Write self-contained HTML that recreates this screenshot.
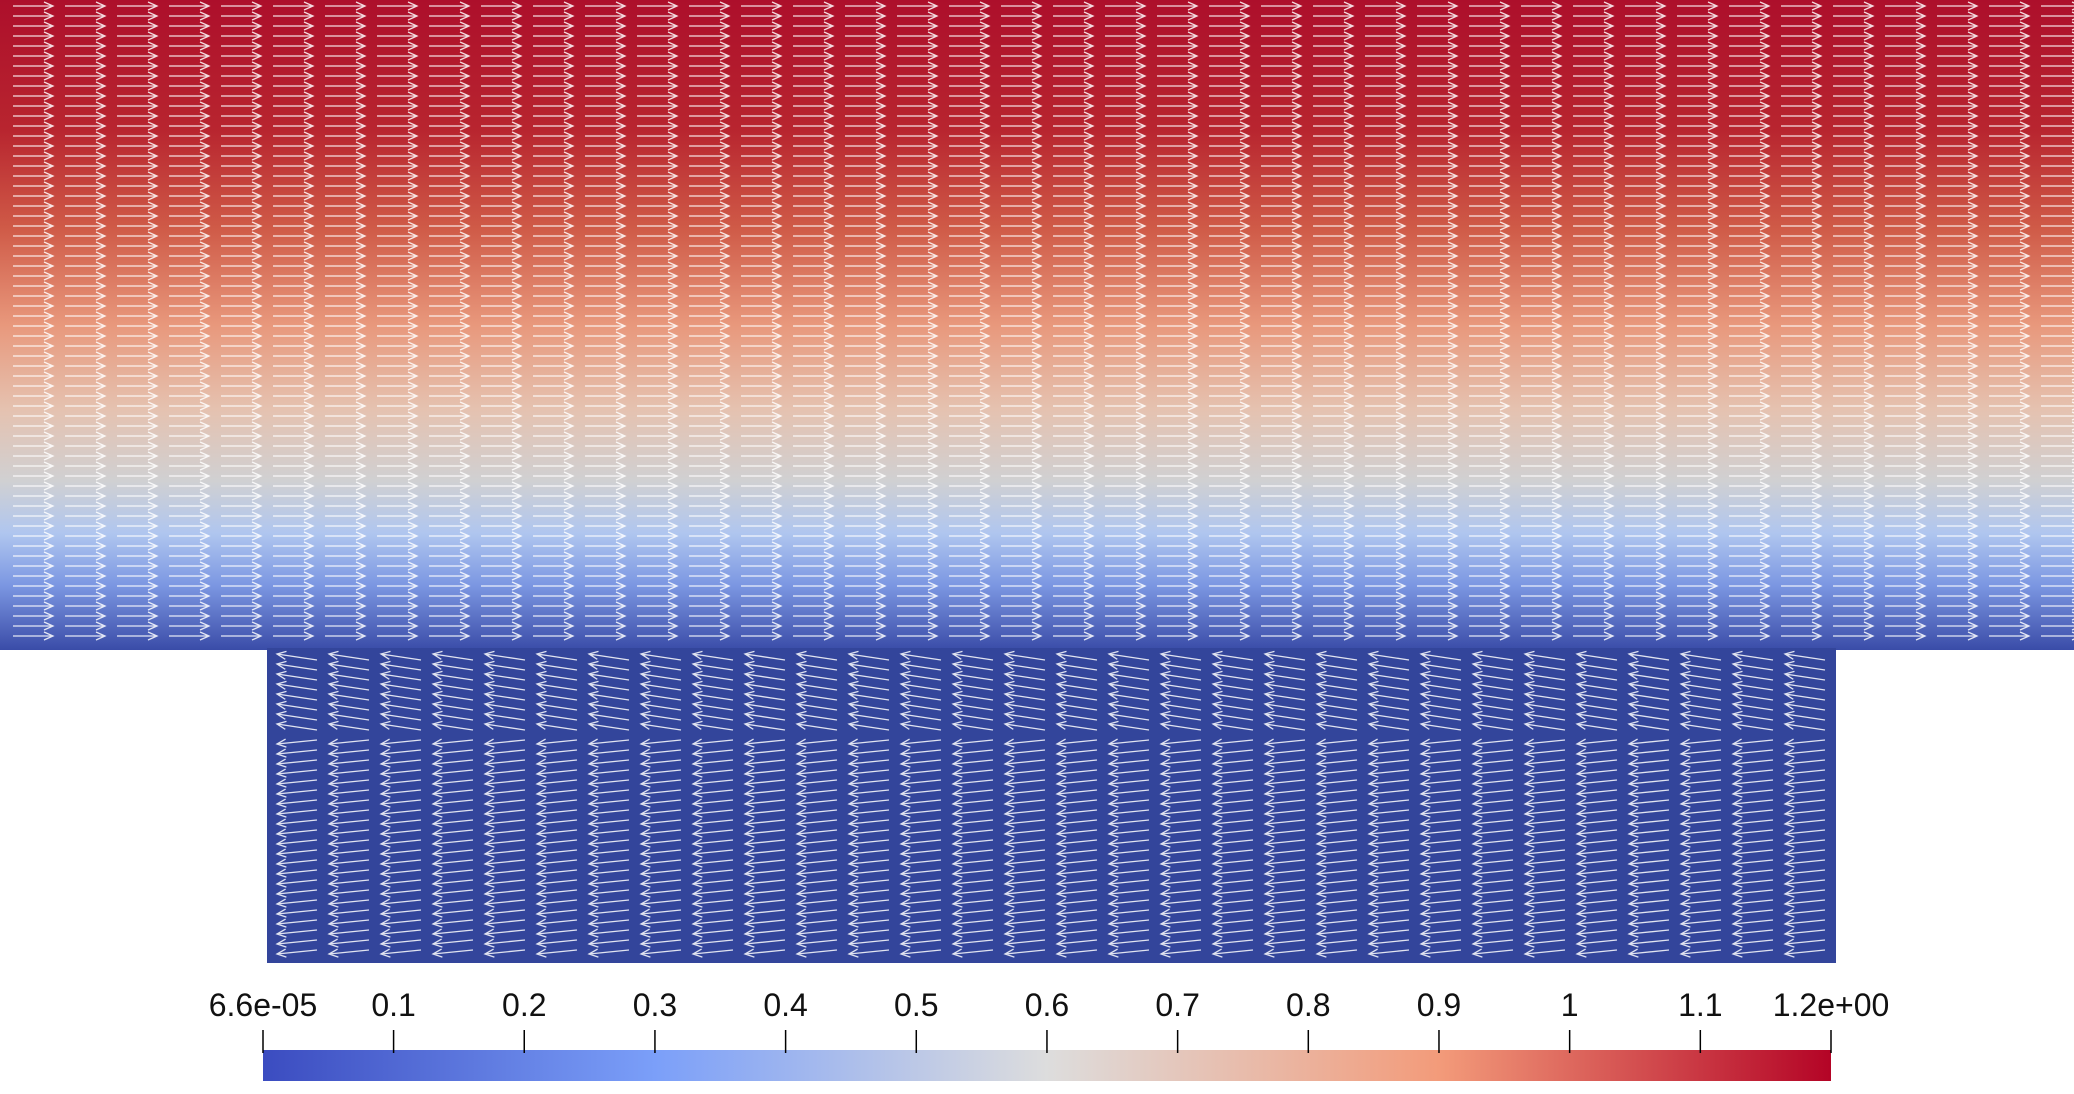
<!DOCTYPE html>
<html><head><meta charset="utf-8">
<style>
html,body{margin:0;padding:0;background:#fff;}
#root{position:relative;width:2074px;height:1094px;overflow:hidden;font-family:"Liberation Sans",sans-serif;}
</style></head>
<body>
<div id="root">
<svg id="svg" width="2074" height="1094" xmlns="http://www.w3.org/2000/svg">
<defs>
<linearGradient id="chan" x1="0" y1="0" x2="0" y2="1">
<stop offset="0" stop-color="#ad0f2b"/>
<stop offset="0.2" stop-color="#b8252f"/>
<stop offset="0.35" stop-color="#cf5a47"/>
<stop offset="0.5" stop-color="#e8987c"/>
<stop offset="0.63" stop-color="#e5c2b0"/>
<stop offset="0.74" stop-color="#d0d0d2"/>
<stop offset="0.82" stop-color="#b0c6ef"/>
<stop offset="0.9" stop-color="#7c97e2"/>
<stop offset="1" stop-color="#3a4ca8"/>
</linearGradient>
<linearGradient id="cbar" x1="0" y1="0" x2="1" y2="0">
<stop offset="0" stop-color="#3b4cc0"/>
<stop offset="0.25" stop-color="#7b9ff9"/>
<stop offset="0.5" stop-color="#dddddd"/>
<stop offset="0.75" stop-color="#f39b7a"/>
<stop offset="1" stop-color="#b40426"/>
</linearGradient>
</defs>
<rect x="0" y="0" width="2074" height="650" fill="url(#chan)"/>
<rect x="267" y="648" width="1569" height="315" fill="#33459b"/>
<g id="arrows" stroke="#ffffff" stroke-width="1.3" fill="none" opacity="0.85"></g>
<rect x="263" y="1050" width="1568" height="31" fill="url(#cbar)"/>
<g id="ticks"></g>
</svg>
</div>
<script>
const tickValues = [0.000066, 0.1, 0.2, 0.3, 0.4, 0.5, 0.6, 0.7, 0.8, 0.9, 1.0, 1.1, 1.2];
const tickLabels = ["6.6e-05","0.1","0.2","0.3","0.4","0.5","0.6","0.7","0.8","0.9","1","1.1","1.2e+00"];
const rangeMin = 0.000066;
const rangeMax = 1.2;

const NS = "http://www.w3.org/2000/svg";
const cx0 = 263, cx1 = 1831;
function xScale(v){ return cx0 + (v - rangeMin) / (rangeMax - rangeMin) * (cx1 - cx0); }
const tg = document.getElementById('ticks');
tickValues.forEach((v, i) => {
  const x = xScale(v);
  const l = document.createElementNS(NS, 'line');
  l.setAttribute('x1', x); l.setAttribute('x2', x);
  l.setAttribute('y1', 1030); l.setAttribute('y2', 1053);
  l.setAttribute('stroke', '#000'); l.setAttribute('stroke-width', '1.5');
  
  
  tg.appendChild(l);
  const t = document.createElementNS(NS, 'text');
  t.setAttribute('x', x); t.setAttribute('y', 1016);
  t.setAttribute('text-anchor', 'middle');
  t.setAttribute('font-size', '32');
  t.setAttribute('font-family', 'Liberation Sans, sans-serif');
  t.setAttribute('fill', '#111');
  t.textContent = tickLabels[i];
  
  
  tg.appendChild(t);
});

const ag = document.getElementById('arrows');
let d = "";
function arrow(x, y, dx, dy){
  const L = Math.hypot(dx, dy) || 1;
  const ux = dx / L, uy = dy / L;
  const hx = x + dx, hy = y + dy;
  const h = 9, w = 4;
  d += `M${x.toFixed(1)} ${y.toFixed(1)}L${hx.toFixed(1)} ${hy.toFixed(1)}`;
  d += `M${(hx - ux*h - uy*w).toFixed(1)} ${(hy - uy*h + ux*w).toFixed(1)}L${hx.toFixed(1)} ${hy.toFixed(1)}L${(hx - ux*h + uy*w).toFixed(1)} ${(hy - uy*h - ux*w).toFixed(1)}`;
}
for (let x = 13; x < 2074; x += 52) {
  for (let y = 6; y < 646; y += 10) {
    arrow(x, y, 40, 0);
  }
}
for (let x = 277; x < 1830; x += 52) {
  for (let y = 660; y < 960; y += 10) {
    const tilt = y < 740 ? -6 : 4;
    arrow(x + 40, y, -40, tilt);
  }
}
const p = document.createElementNS(NS, 'path');
p.setAttribute('d', d);


ag.appendChild(p);
</script>
</body></html>
